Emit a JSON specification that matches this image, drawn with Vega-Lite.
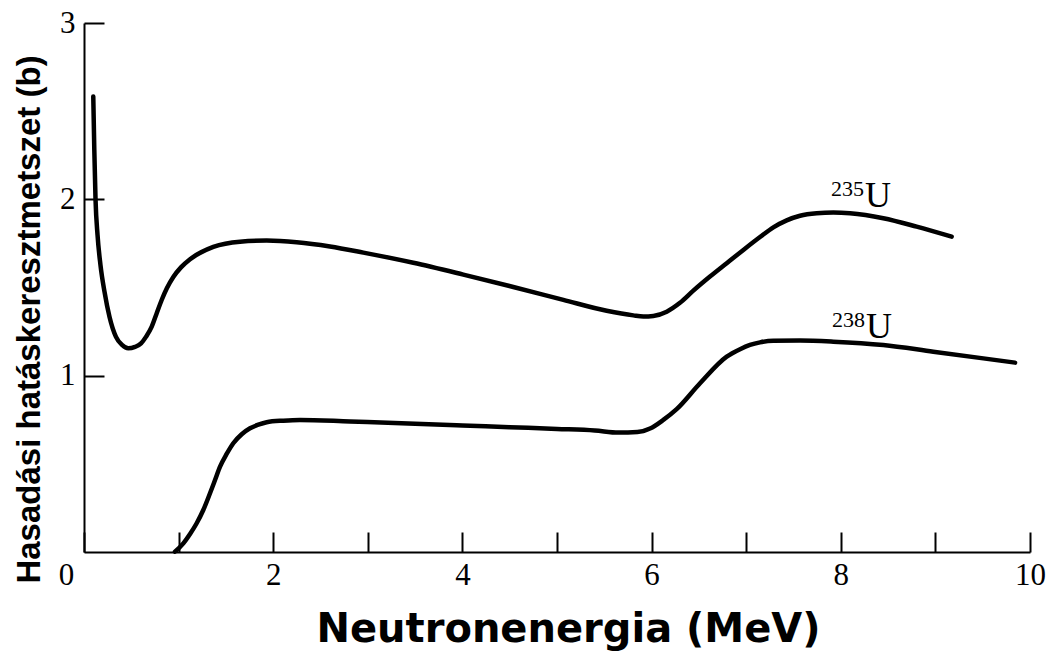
{
  "$schema": "https://vega.github.io/schema/vega-lite/v6.json",
  "width": 946,
  "height": 529,
  "autosize": {"type": "none"},
  "padding": {"left": 84, "top": 23, "right": 24, "bottom": 100},
  "background": "white",
  "config": {"view": {"stroke": null}},
  "datasets": {
    "curves": [
      {"isotope": "235U", "energy": 0.098, "sigma": 2.583},
      {"isotope": "235U", "energy": 0.109, "sigma": 2.280},
      {"isotope": "235U", "energy": 0.122, "sigma": 1.997},
      {"isotope": "235U", "energy": 0.143, "sigma": 1.798},
      {"isotope": "235U", "energy": 0.174, "sigma": 1.628},
      {"isotope": "235U", "energy": 0.217, "sigma": 1.475},
      {"isotope": "235U", "energy": 0.270, "sigma": 1.333},
      {"isotope": "235U", "energy": 0.338, "sigma": 1.220},
      {"isotope": "235U", "energy": 0.402, "sigma": 1.174},
      {"isotope": "235U", "energy": 0.468, "sigma": 1.155},
      {"isotope": "235U", "energy": 0.539, "sigma": 1.163},
      {"isotope": "235U", "energy": 0.603, "sigma": 1.183},
      {"isotope": "235U", "energy": 0.655, "sigma": 1.220},
      {"isotope": "235U", "energy": 0.716, "sigma": 1.278},
      {"isotope": "235U", "energy": 0.766, "sigma": 1.350},
      {"isotope": "235U", "energy": 0.821, "sigma": 1.429},
      {"isotope": "235U", "energy": 0.877, "sigma": 1.497},
      {"isotope": "235U", "energy": 0.944, "sigma": 1.560},
      {"isotope": "235U", "energy": 1.025, "sigma": 1.614},
      {"isotope": "235U", "energy": 1.121, "sigma": 1.660},
      {"isotope": "235U", "energy": 1.367, "sigma": 1.730},
      {"isotope": "235U", "energy": 1.649, "sigma": 1.760},
      {"isotope": "235U", "energy": 1.931, "sigma": 1.766},
      {"isotope": "235U", "energy": 2.248, "sigma": 1.757},
      {"isotope": "235U", "energy": 2.600, "sigma": 1.733},
      {"isotope": "235U", "energy": 2.953, "sigma": 1.698},
      {"isotope": "235U", "energy": 3.481, "sigma": 1.640},
      {"isotope": "235U", "energy": 4.010, "sigma": 1.573},
      {"isotope": "235U", "energy": 4.538, "sigma": 1.503},
      {"isotope": "235U", "energy": 5.067, "sigma": 1.430},
      {"isotope": "235U", "energy": 5.525, "sigma": 1.368},
      {"isotope": "235U", "energy": 5.807, "sigma": 1.342},
      {"isotope": "235U", "energy": 5.913, "sigma": 1.336},
      {"isotope": "235U", "energy": 6.018, "sigma": 1.339},
      {"isotope": "235U", "energy": 6.160, "sigma": 1.363},
      {"isotope": "235U", "energy": 6.300, "sigma": 1.413},
      {"isotope": "235U", "energy": 6.441, "sigma": 1.482},
      {"isotope": "235U", "energy": 6.617, "sigma": 1.562},
      {"isotope": "235U", "energy": 6.794, "sigma": 1.638},
      {"isotope": "235U", "energy": 6.970, "sigma": 1.713},
      {"isotope": "235U", "energy": 7.146, "sigma": 1.786},
      {"isotope": "235U", "energy": 7.287, "sigma": 1.841},
      {"isotope": "235U", "energy": 7.428, "sigma": 1.881},
      {"isotope": "235U", "energy": 7.569, "sigma": 1.907},
      {"isotope": "235U", "energy": 7.745, "sigma": 1.921},
      {"isotope": "235U", "energy": 7.921, "sigma": 1.925},
      {"isotope": "235U", "energy": 8.097, "sigma": 1.921},
      {"isotope": "235U", "energy": 8.449, "sigma": 1.893},
      {"isotope": "235U", "energy": 8.802, "sigma": 1.845},
      {"isotope": "235U", "energy": 9.172, "sigma": 1.788},
      {"isotope": "238U", "energy": 0.962, "sigma": 0.002},
      {"isotope": "238U", "energy": 1.050, "sigma": 0.049},
      {"isotope": "238U", "energy": 1.121, "sigma": 0.102},
      {"isotope": "238U", "energy": 1.191, "sigma": 0.163},
      {"isotope": "238U", "energy": 1.261, "sigma": 0.238},
      {"isotope": "238U", "energy": 1.332, "sigma": 0.333},
      {"isotope": "238U", "energy": 1.385, "sigma": 0.408},
      {"isotope": "238U", "energy": 1.438, "sigma": 0.484},
      {"isotope": "238U", "energy": 1.508, "sigma": 0.556},
      {"isotope": "238U", "energy": 1.578, "sigma": 0.617},
      {"isotope": "238U", "energy": 1.667, "sigma": 0.668},
      {"isotope": "238U", "energy": 1.755, "sigma": 0.702},
      {"isotope": "238U", "energy": 1.843, "sigma": 0.722},
      {"isotope": "238U", "energy": 1.931, "sigma": 0.736},
      {"isotope": "238U", "energy": 2.107, "sigma": 0.745},
      {"isotope": "238U", "energy": 2.283, "sigma": 0.749},
      {"isotope": "238U", "energy": 2.812, "sigma": 0.740},
      {"isotope": "238U", "energy": 3.5, "sigma": 0.728},
      {"isotope": "238U", "energy": 4.0, "sigma": 0.718},
      {"isotope": "238U", "energy": 4.5, "sigma": 0.708},
      {"isotope": "238U", "energy": 5.0, "sigma": 0.698},
      {"isotope": "238U", "energy": 5.4, "sigma": 0.689},
      {"isotope": "238U", "energy": 5.65, "sigma": 0.677},
      {"isotope": "238U", "energy": 5.85, "sigma": 0.680},
      {"isotope": "238U", "energy": 5.983, "sigma": 0.700},
      {"isotope": "238U", "energy": 6.124, "sigma": 0.749},
      {"isotope": "238U", "energy": 6.265, "sigma": 0.810},
      {"isotope": "238U", "energy": 6.512, "sigma": 0.957},
      {"isotope": "238U", "energy": 6.794, "sigma": 1.108},
      {"isotope": "238U", "energy": 6.935, "sigma": 1.150},
      {"isotope": "238U", "energy": 7.040, "sigma": 1.174},
      {"isotope": "238U", "energy": 7.146, "sigma": 1.189},
      {"isotope": "238U", "energy": 7.287, "sigma": 1.198},
      {"isotope": "238U", "energy": 7.569, "sigma": 1.199},
      {"isotope": "238U", "energy": 7.921, "sigma": 1.193},
      {"isotope": "238U", "energy": 8.449, "sigma": 1.174},
      {"isotope": "238U", "energy": 8.978, "sigma": 1.136},
      {"isotope": "238U", "energy": 9.842, "sigma": 1.074}
    ],
    "labels": [
      {"mass": "235", "symbol": "U", "energy": 8.256, "sigma": 1.957},
      {"mass": "238", "symbol": "U", "energy": 8.266, "sigma": 1.214}
    ]
  },
  "layer": [
    {
      "data": {"name": "curves"},
      "mark": {"type": "line", "interpolate": "monotone", "color": "black", "strokeWidth": 4.5, "strokeCap": "round"},
      "encoding": {
        "x": {
          "field": "energy", "type": "quantitative",
          "scale": {"domain": [0, 10], "nice": false, "zero": false},
          "axis": {
            "title": "Neutronenergia (MeV)",
            "titleFont": "DejaVu Sans", "titleFontWeight": "bold", "titleFontSize": 40, "titleColor": "black",
            "titleX": 484, "titleY": 89, "titleBaseline": "alphabetic", "titleAlign": "center", "titleAnchor": "start",
            "values": [0, 1, 2, 3, 4, 5, 6, 7, 8, 9, 10],
            "format": "d",
            "labelExpr": "datum.value % 2 == 0 ? datum.label : ''",
            "labelOffset": {"condition": {"test": "datum.value == 0", "value": -18}, "value": 0},
            "labelFont": "Liberation Serif", "labelFontSize": 31, "labelColor": "black",
            "labelFlush": false, "labelOverlap": false, "labelBound": false,
            "labelBaseline": "top",
            "tickSize": -20, "labelPadding": 28, "tickColor": "black", "tickWidth": 2,
            "domainColor": "black", "domainWidth": 2, "grid": false
          }
        },
        "y": {
          "field": "sigma", "type": "quantitative",
          "scale": {"domain": [0, 3], "nice": false, "zero": false},
          "axis": {
            "title": "Hasadási hatáskeresztmetszet (b)",
            "titleFont": "Liberation Sans", "titleFontWeight": "bold", "titleFontSize": 33, "titleColor": "black",
            "titleAngle": 270, "titleX": -55, "titleY": 296, "titleBaseline": "middle", "titleAlign": "center", "titleAnchor": "start",
            "values": [1, 2, 3],
            "format": "d",
            "labelFont": "Liberation Serif", "labelFontSize": 31, "labelColor": "black",
            "labelFlush": false, "labelOverlap": false, "labelBound": false,
            "tickSize": -20, "labelPadding": 29, "tickColor": "black", "tickWidth": 2,
            "domainColor": "black", "domainWidth": 2, "grid": false
          }
        },
        "detail": {"field": "isotope", "type": "nominal"}
      }
    },
    {
      "data": {"name": "labels"},
      "mark": {"type": "text", "font": "Liberation Serif", "fontSize": 22, "align": "right", "baseline": "alphabetic", "dx": -1, "dy": -11, "color": "black"},
      "encoding": {
        "x": {"field": "energy", "type": "quantitative"},
        "y": {"field": "sigma", "type": "quantitative"},
        "text": {"field": "mass"}
      }
    },
    {
      "data": {"name": "labels"},
      "mark": {"type": "text", "font": "Liberation Serif", "fontSize": 36, "align": "left", "baseline": "alphabetic", "dx": 0, "color": "black"},
      "encoding": {
        "x": {"field": "energy", "type": "quantitative"},
        "y": {"field": "sigma", "type": "quantitative"},
        "text": {"field": "symbol"}
      }
    }
  ]
}
